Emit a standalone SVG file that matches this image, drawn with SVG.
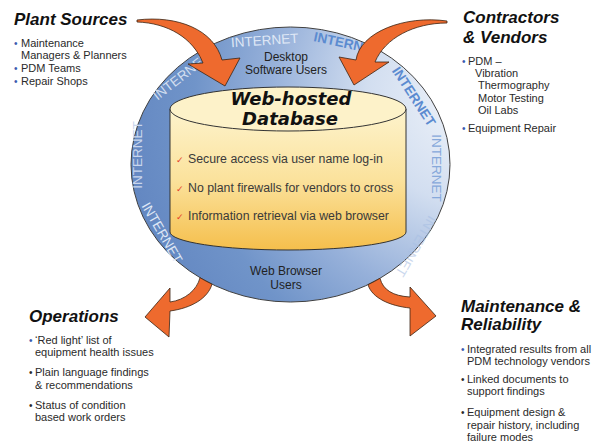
<svg xmlns="http://www.w3.org/2000/svg" width="597" height="445" viewBox="0 0 597 445">
<defs>
<radialGradient id="ringGrad" gradientUnits="userSpaceOnUse" cx="470" cy="100" r="345">
<stop offset="0" stop-color="#f0f4fa"/>
<stop offset="0.3" stop-color="#d2def0"/>
<stop offset="0.58" stop-color="#97b1da"/>
<stop offset="0.8" stop-color="#7094c9"/>
<stop offset="1" stop-color="#6488c2"/>
</radialGradient>
<linearGradient id="cylGrad" gradientUnits="userSpaceOnUse" x1="0" y1="110" x2="0" y2="250">
<stop offset="0" stop-color="#fdf3cc"/>
<stop offset="0.5" stop-color="#fbe29c"/>
<stop offset="1" stop-color="#f5bf4c"/>
</linearGradient>
<style>
text{font-family:"Liberation Sans",Arial,sans-serif;}
.title{font-size:17px;font-weight:bold;font-style:italic;fill:#111;}
.item{font-size:11px;fill:#2a2a2a;}
.bul{font-size:10px;fill:#2a2a2a;}
.bb{font-size:10px;fill:#3a5cb0;}
.lbl{font-size:12px;fill:#222;text-anchor:middle;}
.db{font-family:"DejaVu Sans",Verdana,sans-serif;font-size:18px;font-weight:bold;font-style:italic;fill:#111;text-anchor:middle;}
.feat{font-size:12.3px;fill:#3a3a3a;}
.chk{font-family:"DejaVu Sans",sans-serif;font-size:9px;fill:#e5392a;}
.net{font-size:13.5px;text-anchor:middle;}
.netL{fill:#dfe7f5;}
.netB{fill:#5b8bd0;font-weight:bold;}
.arrow{fill:#ee6a2e;stroke:#3a2414;stroke-width:0.8;stroke-linejoin:round;}
</style>
</defs>
<rect width="597" height="445" fill="#ffffff"/>

<g id="hub">
<ellipse cx="290.5" cy="164.5" rx="159.5" ry="137.5" fill="url(#ringGrad)" stroke="#404040" stroke-width="1"/>
<text class="net netL" transform="translate(265,45) rotate(-4)">INTERNET</text>
<text class="net netB" transform="translate(313,41) rotate(12)" style="text-anchor:start">INTERNET</text>
<text class="net netL" transform="translate(184,80) rotate(-38)" opacity="0.9">INTERNET</text>
<text class="net" fill="#c9d6ec" transform="translate(142,155) rotate(-90)">INTERNET</text>
<text class="net netL" transform="translate(158,235) rotate(60)">INTERNET</text>
<text class="net netB" transform="translate(410,99) rotate(57)">INTERNET</text>
<text class="net" fill="#86a8da" transform="translate(432,168) rotate(90)">INTERNET</text>
<text class="net" fill="#a9c0e4" opacity="0.6" transform="translate(412,244) rotate(120)">INTERNET</text>
<text class="lbl" x="286" y="61">Desktop</text>
<text class="lbl" x="286" y="74">Software Users</text>
<text class="lbl" x="286" y="275">Web Browser</text>
<text class="lbl" x="286" y="289">Users</text>
</g>

<g id="database">
<path d="M170,109 L170,232 A118,18 0 0 0 406,232 L406,109 Z" fill="url(#cylGrad)" stroke="#333" stroke-width="1"/>
<ellipse cx="288" cy="109" rx="118" ry="22" fill="#fdf2c9" stroke="#333" stroke-width="1"/>
<text class="db" x="291" y="105">Web-hosted</text>
<text class="db" x="290" y="125">Database</text>
<text class="chk" x="176" y="163">✓</text>
<text class="feat" x="188" y="163">Secure access via user name log-in</text>
<text class="chk" x="176" y="192">✓</text>
<text class="feat" x="188" y="192">No plant firewalls for vendors to cross</text>
<text class="chk" x="176" y="220">✓</text>
<text class="feat" x="188" y="220">Information retrieval via web browser</text>
</g>

<g id="plant-sources">
<text class="title" x="14" y="25">Plant Sources</text>
<text class="bb" x="14" y="47">•</text>
<text class="item" x="21" y="47">Maintenance</text>
<text class="item" x="21" y="59">Managers &amp; Planners</text>
<text class="bb" x="14" y="72">•</text>
<text class="item" x="21" y="72">PDM Teams</text>
<text class="bb" x="14" y="85">•</text>
<text class="item" x="21" y="85">Repair Shops</text>
</g>

<g id="contractors-vendors">
<text class="title" x="463" y="23">Contractors</text>
<text class="title" x="463" y="43">&amp; Vendors</text>
<text class="bb" x="462" y="65">•</text>
<text class="item" x="468" y="65">PDM –</text>
<text class="item" x="475" y="77">Vibration</text>
<text class="item" x="478" y="89">Thermography</text>
<text class="item" x="478" y="102">Motor Testing</text>
<text class="item" x="478" y="114">Oil Labs</text>
<text class="bb" x="462" y="132">•</text>
<text class="item" x="468" y="132">Equipment Repair</text>
</g>

<g id="operations">
<text class="title" x="29" y="322">Operations</text>
<text class="bb" x="29" y="344">•</text>
<text class="item" x="35" y="344">‘Red light’ list of</text>
<text class="item" x="35" y="356">equipment health issues</text>
<text class="bul" x="29" y="376">•</text>
<text class="item" x="35" y="376">Plain language findings</text>
<text class="item" x="35" y="389">&amp; recommendations</text>
<text class="bul" x="29" y="409">•</text>
<text class="item" x="35" y="409">Status of condition</text>
<text class="item" x="35" y="421">based work orders</text>
</g>

<g id="maintenance-reliability">
<text class="title" x="461" y="312">Maintenance &amp;</text>
<text class="title" x="461" y="330">Reliability</text>
<text class="bb" x="461" y="353">•</text>
<text class="item" x="467" y="353">Integrated results from all</text>
<text class="item" x="467" y="365">PDM technology vendors</text>
<text class="bul" x="461" y="383">•</text>
<text class="item" x="467" y="383">Linked documents to</text>
<text class="item" x="467" y="395">support findings</text>
<text class="bul" x="461" y="416">•</text>
<text class="item" x="467" y="416">Equipment design &amp;</text>
<text class="item" x="467" y="429">repair history, including</text>
<text class="item" x="467" y="441">failure modes</text>
</g>

<g id="connectors">
<path class="arrow" d="M137,20 C178,15 214,30 222,60 L240,58 L225,86 L188,64 L203,63 C193,38 168,23 137,22 Z"/>
<path class="arrow" d="M447,21 C405,15 360,32 356,60 L339,57 L354,85 L389,62 L375,62 C385,38 414,23 447,23 Z"/>
<path class="arrow" d="M212,284.2 C208,298 192,308 170,311 L169,337 L145,317 L170,288 L170,302 C185,300 197,290 200,277.7 A159.5,137.5 0 0 0 212,284.2 Z"/>
<path class="arrow" d="M368,284.7 C372,298 390,306 410,308 L410,336 L436,316 L410,287 L410,297 C393,296 383,290 380,278.3 A159.5,137.5 0 0 1 368,284.7 Z"/>
</g>
</svg>
